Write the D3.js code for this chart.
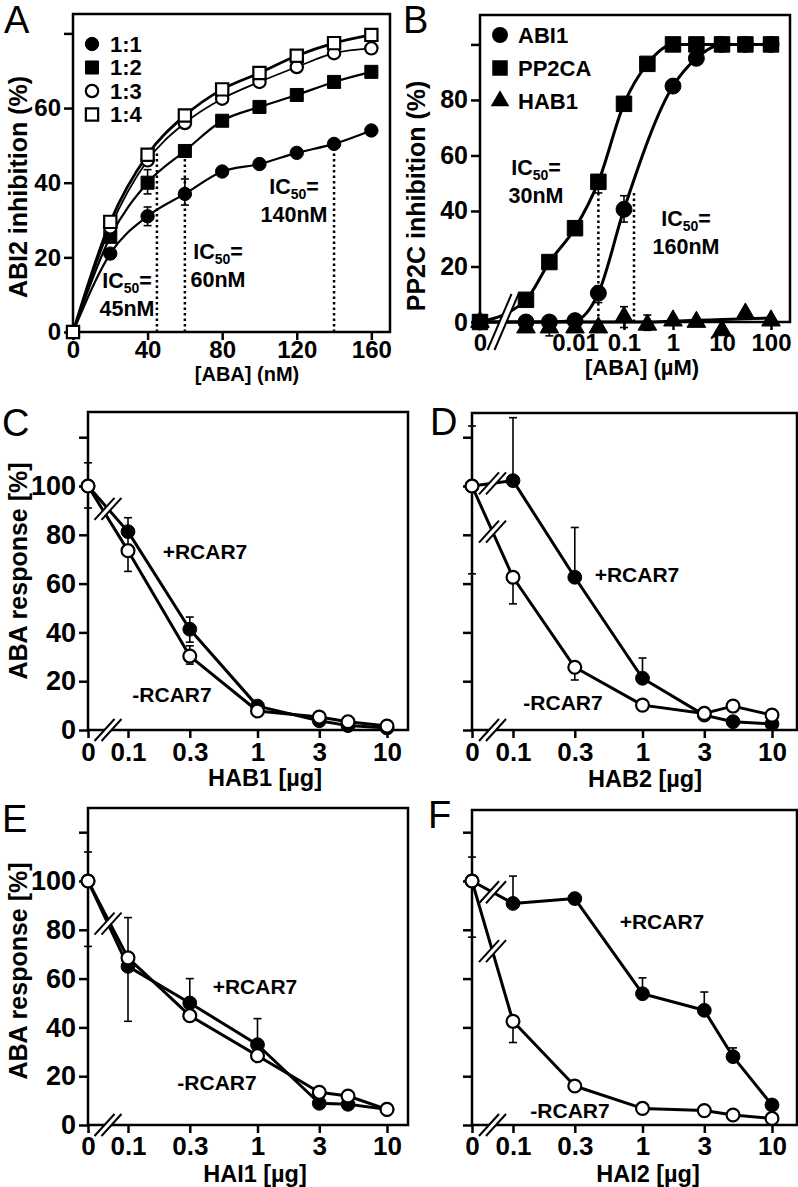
<!DOCTYPE html>
<html>
<head>
<meta charset="utf-8">
<script src="https://cdn.jsdelivr.net/npm/d3@7"></script>
<style>
  body { margin: 0; background: #fff; }
  text { fill: #000; }
</style>
</head>
<body>
<div id="chart"></div>
<script>
// ---- panel A : ABI2 inhibition vs ABA (nM) ----
const aDose = [0, 20, 40, 60, 80, 100, 120, 140, 160];
const aRatio11 = [0, 21, 31, 37, 43, 45, 48, 50.4, 54];
const aRatio12 = [0, 25.5, 40, 48.5, 56.6, 60.3, 63.5, 67, 69.7];
const aRatio13 = [0, 28, 46, 56, 62.5, 67, 71, 74.7, 76];
const aRatio14 = [0, 29.5, 47.5, 58, 65, 69.4, 74, 77.4, 79.6];
const aErr11 = [null, null, [28.5, 33.5], [34, 41], null, null, null, null, null];
const aErr12 = [null, null, [37, 43.5], null, null, null, null, null, null];
const aIC50 = [[45, 48], [60, 48.5], [140, 50]];
const aXTicks = [0, 40, 80, 120, 160];
const aYTicks = [0, 20, 40, 60, 80];
const aYLabels = [0, 20, 40, 60];

// ---- panel B : PP2C inhibition vs ABA (uM) ----
const bDose = [0, 0.001, 0.003, 0.01, 0.03, 0.1, 0.3, 1, 3, 10, 30, 100];
const bABI1 = [0, 0, 0, 0.5, 10.4, 40.6, null, 85, 95, 100, 100, 100];
const bPP2CA = [0, 8, 21.6, 33.8, 50.5, 78.6, 93, 100, 100, 100, 100, 100];
const bHAB1 = [0, -2, -2, -2, -2, 1.8, -1, 0.5, 0, -3, 3, 0.5];
const bHAB1Fit = [0, 0, 0, 0, 0, 0, 0, 0.3, 0.6, 0.9, 1.2, 1.4];
const bABI1Err = [null, null, null, null, [7, 13], [36, 45.5], null, null, null, null, null, null];
const bPP2CAErr = [null, null, null, null, [46.5, 53], null, null, null, null, null, null, null];
const bHAB1Err = [null, null, [-5, -2], null, null, [-2, 5.5], [-3, 2.5], null, null, null, null, null];
const bIC50 = [[0.03, 47], [0.16, 47]];
const bXTicks = [0, 0.01, 0.1, 1, 10, 100];
const bYTicks = [0, 20, 40, 60, 80, 100];
const bYLabels = [0, 20, 40, 60, 80];

// ---- panels C-F : ABA response vs PP2C amount (ug) ----
const cfDose = [0, 0.1, 0.3, 1, 3, 5, 10];
const cfXTicks = [0, 0.1, 0.3, 1, 3, 10];
const cfYTicks = [0, 20, 40, 60, 80, 100, 120];
const cfYLabels = [0, 20, 40, 60, 80, 100];

const cPlus = [100, 81.3, 41.3, 9.8, 3.8, 1.8, 0.8];
const cMinus = [100, 73.5, 30.3, 7.8, 5.3, 3.4, 1.6];
const cPlusErr = [[91, 109.5], [76, 87], [36, 46.3], null, null, null, null];
const cMinusErr = [null, [65, 73.5], [27, 34.5], null, null, null, null];

const dPlus = [100, 102.2, 62.6, 21.2, 6.1, 3.4, 2.5];
const dMinus = [100, 62.6, 25.7, 10.2, 6.8, 9.8, 6.1];
const dPlusErr = [[64, 124.6], [102.2, 128], [62.6, 83], [21.2, 29.5], null, null, null];
const dMinusErr = [null, [51.7, 62.6], [20.5, 25.7], null, null, null, null];

const ePlus = [100, 65, 50, 32.9, 8.9, 8.5, 6.4];
const eMinus = [100, 68.5, 44.8, 28.4, 13.4, 11.9, 6.4];
const ePlusErr = [[73.2, 111.9], [42.5, 85], [50, 60], [32.9, 43.6], null, null, null];
const eMinusErr = [null, null, null, null, null, null, null];

const fPlus = [100, 90.8, 92.8, 53.8, 47, 28, 8.2];
const fMinus = [100, 42.5, 16, 6.8, 5.9, 4.1, 2.7];
const fPlusErr = [[77, 109.8], [90.8, 102], null, [53.8, 60.3], [47, 54.5], [28, 31.6], null];
const fMinusErr = [null, [33.8, 42.5], null, null, null, null, null];

const FONT = '"Liberation Sans", Arial, Helvetica, sans-serif';

const svg = d3.select('#chart').append('svg')
  .attr('width', 798).attr('height', 1187)
  .style('font-family', FONT);

// x scale with a "0" position in front of a log axis
function hybrid(zeroPx, log, w) {
  const f = v => v === 0 ? zeroPx : log(v);
  f.copy = () => f;
  f.range = () => [0, w];
  f.domain = () => log.domain();
  return f;
}

function slash(g, cx, cy, dx, dy, off) {
  g.append('path')
    .attr('d', `M${cx - off - dx},${cy + dy}L${cx - off + dx},${cy - dy}L${cx + off + dx},${cy - dy}L${cx + off - dx},${cy + dy}Z`)
    .attr('fill', '#fff');
  [-off, off].forEach(o => g.append('line')
    .attr('x1', cx + o - dx).attr('y1', cy + dy)
    .attr('x2', cx + o + dx).attr('y2', cy - dy)
    .attr('stroke', '#000').attr('stroke-width', 2));
}

function ic50(g, x, y, value) {
  const t = g.append('text').attr('x', x).attr('y', y - 1).attr('text-anchor', 'middle')
    .attr('font-size', 21.5).attr('font-weight', 'bold');
  t.append('tspan').text('IC');
  t.append('tspan').attr('font-size', 14).attr('dy', 5).text('50');
  t.append('tspan').attr('dy', -5).text('=');
  g.append('text').attr('x', x).attr('y', y + 27).attr('text-anchor', 'middle')
    .attr('font-size', 21.5).attr('font-weight', 'bold').text(value);
}

function panel(p) {
  const g = svg.append('g').attr('transform', `translate(${p.left},${p.top})`);
  const x = p.x, y = p.y;

  g.append('rect').attr('width', p.w).attr('height', p.h)
    .attr('fill', 'none').attr('stroke', '#000').attr('stroke-width', 2.5);

  const ya = g.append('g').call(d3.axisLeft(y).tickValues(p.yTicks).tickSize(9).tickPadding(3)
    .tickFormat(d => p.yLabels.includes(d) ? d : ''));
  ya.select('.domain').remove();
  ya.selectAll('line').attr('stroke-width', 2.5);
  ya.selectAll('text').attr('font-size', p.yTickFont || p.tickFont).attr('font-weight', 'bold').attr('font-family', FONT);

  const xa = g.append('g').attr('transform', `translate(0,${p.h})`)
    .call(d3.axisBottom(x).tickValues(p.xTicks).tickSize(8).tickFormat(d => String(d)));
  xa.select('.domain').remove();
  xa.selectAll('line').attr('stroke-width', 2.5);
  xa.selectAll('text').attr('font-size', p.tickFont).attr('font-weight', 'bold').attr('font-family', FONT)
    .attr('y', p.xLabelY).attr('dy', 0);

  (p.guides || []).forEach(v => g.append('line')
    .attr('x1', x(v[0])).attr('x2', x(v[0])).attr('y1', y(0)).attr('y2', y(v[1]))
    .attr('stroke', '#000').attr('stroke-width', 2.5).attr('stroke-dasharray', '2.5,3'));

  p.series.forEach(s => {
    const pts = p.dose.map((d, i) => [d, (s.fit || s.vals)[i]]).filter(d => d[1] != null);
    g.append('path').datum(pts)
      .attr('fill', 'none').attr('stroke', '#000').attr('stroke-width', s.lw || 3)
      .attr('stroke-linejoin', 'round')
      .attr('d', d3.line().x(d => x(d[0])).y(d => y(d[1])).curve(p.curve || d3.curveLinear));
  });

  // axis breaks
  if (p.axisBreak) {
    const b = p.axisBreak;
    slash(g, (x(0) + x(p.dose[1])) / 2, p.h, b.dx, b.dy, b.off);
    (b.series || []).forEach(k => {
      const s = p.series[k];
      slash(g, (x(0) + x(p.dose[1])) / 2, (y(s.vals[0]) + y(s.vals[1])) / 2, b.dx, b.dy, b.off);
    });
  }

  p.series.forEach(s => {
    (s.err || []).forEach((e, i) => {
      if (!e) return;
      const cx = x(p.dose[i]);
      g.append('line').attr('x1', cx).attr('x2', cx).attr('y1', y(e[0])).attr('y2', y(e[1]))
        .attr('stroke', '#000').attr('stroke-width', 1.6);
      e.forEach(v => g.append('line').attr('x1', cx - 4).attr('x2', cx + 4)
        .attr('y1', y(v)).attr('y2', y(v)).attr('stroke', '#000').attr('stroke-width', 1.6));
    });
  });

  p.series.forEach(s => {
    const pts = p.dose.map((d, i) => [d, s.vals[i]]).filter(d => d[1] != null);
    g.selectAll(null).data(pts).join('path')
      .attr('transform', d => `translate(${x(d[0])},${y(d[1])})`)
      .attr('d', d3.symbol().type(s.sym).size(s.size))
      .attr('fill', s.open ? '#fff' : '#000')
      .attr('stroke', '#000').attr('stroke-width', s.open ? 2.2 : 1);
  });
  return g;
}

function sideTitle(x, y, txt) {
  svg.append('text').attr('transform', `translate(${x},${y}) rotate(-90)`)
    .attr('text-anchor', 'middle').attr('font-size', 25).attr('font-weight', 'bold').text(txt);
}
function bottomTitle(x, y, txt, size) {
  svg.append('text').attr('x', x).attr('y', y).attr('text-anchor', 'middle')
    .attr('font-size', size).attr('font-weight', 'bold').text(txt);
}
function letter(x, y, txt) {
  svg.append('text').attr('x', x).attr('y', y).attr('font-size', 38).text(txt);
}
function note(x, y, txt) {
  svg.append('text').attr('x', x).attr('y', y).attr('dy', '0.35em').attr('text-anchor', 'middle')
    .attr('font-size', 21).attr('font-weight', 'bold').text(txt);
}

// ---------- A ----------
const aSeries = [
  { name: '1:1', vals: aRatio11, err: aErr11, sym: d3.symbolCircle, size: 140, lw: 2.2 },
  { name: '1:2', vals: aRatio12, err: aErr12, sym: d3.symbolSquare, size: 170, lw: 2.2 },
  { name: '1:3', vals: aRatio13, sym: d3.symbolCircle, size: 120, open: true, lw: 1.8 },
  { name: '1:4', vals: aRatio14, sym: d3.symbolSquare, size: 150, open: true, lw: 2.8 }
];
const gA = panel({
  left: 73, top: 14, w: 317, h: 318,
  x: d3.scaleLinear([0, 170], [0, 317]), y: d3.scaleLinear([0, 85.2], [318, 0]),
  dose: aDose, series: aSeries, curve: d3.curveMonotoneX,
  xTicks: aXTicks, yTicks: aYTicks, yLabels: aYLabels, tickFont: 24, xLabelY: 26,
  guides: aIC50
});
aSeries.forEach((s, i) => {
  const yy = 30 + i * 23.5;
  gA.append('path').attr('transform', `translate(19,${yy})`)
    .attr('d', d3.symbol().type(s.sym).size(s.size))
    .attr('fill', s.open ? '#fff' : '#000').attr('stroke', '#000').attr('stroke-width', s.open ? 2.2 : 1);
  gA.append('text').attr('x', 37).attr('y', yy).attr('dy', '0.35em')
    .attr('font-size', 22).attr('font-weight', 'bold').text(s.name);
});
ic50(svg, 127, 289, '45nM');
ic50(svg, 218, 260, '60nM');
ic50(svg, 294, 195, '140nM');
sideTitle(27, 187, 'ABI2 inhibition (%)');
bottomTitle(247, 381, '[ABA] (nM)', 20);
letter(4, 33, 'A');

// ---------- B ----------
const bSeries = [
  { name: 'ABI1', vals: bABI1, err: bABI1Err, sym: d3.symbolCircle, size: 200 },
  { name: 'PP2CA', vals: bPP2CA, err: bPP2CAErr, sym: d3.symbolSquare, size: 240 },
  { name: 'HAB1', vals: bHAB1, fit: bHAB1Fit, err: bHAB1Err, sym: d3.symbolTriangle, size: 150 }
];
const gB = panel({
  left: 480, top: 15, w: 310, h: 307,
  x: hybrid(0, d3.scaleLog([0.001, 100], [46, 291]), 310), y: d3.scaleLinear([0, 110.6], [307, 0]),
  dose: bDose, series: bSeries, curve: d3.curveMonotoneX,
  xTicks: bXTicks, yTicks: bYTicks, yLabels: bYLabels, tickFont: 24, yTickFont: 25, xLabelY: 29,
  guides: bIC50,
  axisBreak: { dx: 12, dy: 28, off: 3.5 }
});
bSeries.forEach((s, i) => {
  const yy = 20 + i * 33;
  gB.append('path').attr('transform', `translate(20,${yy})`)
    .attr('d', d3.symbol().type(s.sym).size(s.size)).attr('fill', '#000');
  gB.append('text').attr('x', 38).attr('y', yy).attr('dy', '0.35em')
    .attr('font-size', 22).attr('font-weight', 'bold').text(s.name);
});
ic50(svg, 536, 176, '30nM');
ic50(svg, 686, 227, '160nM');
sideTitle(425, 196, 'PP2C inhibition (%)');
bottomTitle(642, 375, '[ABA] (µM)', 22);
letter(403, 33, 'B');

// ---------- C-F ----------
function cfPanel(left, top, w, h, plus, minus, plusErr, minusErr, labels, breaks, labelY) {
  const zero = left < 400 ? 40 : 41;
  return panel({
    left: left, top: top, w: w, h: h,
    x: hybrid(0, d3.scaleLog([0.1, 10], [zero, zero + 259]), w),
    y: d3.scaleLinear([0, h / 2.44], [h, 0]),
    dose: cfDose,
    series: [
      { vals: plus, err: plusErr, sym: d3.symbolCircle, size: 150 },
      { vals: minus, err: minusErr, sym: d3.symbolCircle, size: 130, open: true }
    ],
    xTicks: cfXTicks, yTicks: cfYTicks, yLabels: labels, tickFont: 26, yTickFont: 27, xLabelY: labelY,
    axisBreak: { dx: 10, dy: 11, off: 3.5, series: breaks }
  });
}

cfPanel(88, 412, 320, 318, cPlus, cMinus, cPlusErr, cMinusErr, cfYLabels, [0], 31);
cfPanel(472, 413, 325, 317, dPlus, dMinus, dPlusErr, dMinusErr, [], [0, 1], 31);
cfPanel(88, 808, 320, 317, ePlus, eMinus, ePlusErr, eMinusErr, cfYLabels, [0], 30);
cfPanel(472, 810, 325, 315, fPlus, fMinus, fPlusErr, fMinusErr, [], [0, 1], 30);

note(205, 552, '+RCAR7'); note(172, 695, '-RCAR7');
note(637, 575, '+RCAR7'); note(563, 703, '-RCAR7');
note(255, 987, '+RCAR7'); note(217, 1083, '-RCAR7');
note(662, 922, '+RCAR7'); note(570, 1111, '-RCAR7');

sideTitle(27, 571, 'ABA response [%]');
sideTitle(27, 971, 'ABA response [%]');
bottomTitle(265, 786, 'HAB1 [µg]', 23.5);
bottomTitle(645, 787, 'HAB2 [µg]', 23.5);
bottomTitle(255, 1182, 'HAI1 [µg]', 23.5);
bottomTitle(648, 1182, 'HAI2 [µg]', 23.5);
letter(2, 436, 'C');
letter(430, 435, 'D');
letter(2, 832, 'E');
letter(428, 828, 'F');
</script>
</body>
</html>
